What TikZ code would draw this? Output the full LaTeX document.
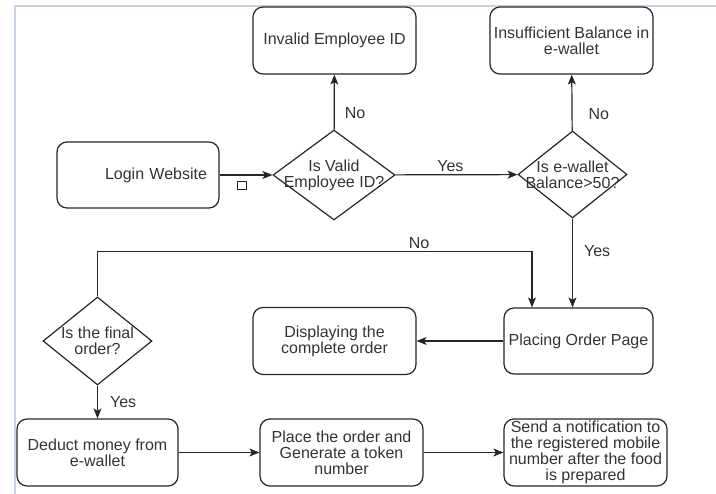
\documentclass[tikz,border=0pt]{standalone}
\usepackage{fontspec}
\setmainfont{Liberation Sans}
\usetikzlibrary{shapes.geometric,arrows.meta}
\definecolor{txtgrey}{HTML}{333333}
\definecolor{framegrey}{HTML}{C9D3E6}
\begin{document}
\begin{tikzpicture}[x=1pt,y=-1pt,line width=1.2pt,>={Stealth[length=10pt,width=8pt,inset=2.5pt]},
  every node/.style={text=txtgrey,font=\fontsize{16}{16}\selectfont},
  box/.style={draw=black!85,rounded corners=10pt,minimum width=163pt,minimum height=67pt,align=center,inner sep=2pt},
  decision/.style={draw=black!85,diamond,inner sep=0pt},
  qtext/.style={align=center,inner sep=0pt},
  tag/.style={inner sep=2pt},
  link/.style={->,draw=black!85}]
\useasboundingbox (0,0) rectangle (716,494);
\draw[framegrey,line width=2pt] (15,494) -- (15,6) -- (716,6);

\node[box,minimum width=162pt,minimum height=66pt,text width=138pt,inner xsep=12pt,align=right] (login) at (138,175) {Login Website};
\node[decision,minimum width=122pt,minimum height=90pt,label={[qtext]center:{Is Valid\\Employee ID?}}] (valid) at (334,175) {};
\node[box] (invalid) at (334.5,40.5) {Invalid Employee ID};
\node[decision,minimum width=109pt,minimum height=87pt,label={[qtext]center:{Is e-wallet\\Balance>50?}}] (balance) at (572.5,174.5) {};
\node[box] (lowbal) at (571.5,40.5) {Insufficient Balance in\\e-wallet};
\node[box,minimum width=149pt,minimum height=66pt] (place) at (578.5,341) {Placing Order Page};
\node[box] (display) at (334.5,341) {Displaying the\\complete order};
\node[decision,minimum width=109pt,minimum height=88pt,label={[qtext]center:{Is the final\\order?}}] (final) at (97.5,341) {};
\node[box,minimum width=161pt] (deduct) at (97.5,452.5) {Deduct money from\\e-wallet};
\node[box] (token) at (341.5,452.5) {Place the order and\\Generate a token\\number};
\node[box] (notify) at (585.5,452.5) {Send a notification to\\the registered mobile\\number after the food\\is prepared};
\node[draw=black!85,line width=0.9pt,minimum width=9pt,minimum height=8pt,inner sep=0pt] (mark) at (242,185.5) {};

\draw[link] (login) -- (valid);
\draw[link] (valid) -- node[tag,pos=0.3,right,xshift=8pt]{No} (invalid);
\draw[link] (valid) -- node[tag,pos=0.45,above]{Yes} (balance);
\draw[link] (balance) -- node[tag,pos=0.3,right,xshift=14pt]{No} (lowbal);
\draw[link] (balance.south) -- node[tag,pos=0.37,right,xshift=9pt]{Yes} (balance.south |- place.north);
\draw[link] (final.north) -- ++(0,-45) -| node[tag,pos=0.37,above]{No} ([xshift=-46.5pt]place.north);
\draw[link] (place) -- (display);
\draw[link] (final) -- node[tag,pos=0.5,right,xshift=10pt]{Yes} (deduct);
\draw[link] (deduct) -- (token);
\draw[link] (token) -- (notify);
\end{tikzpicture}
\end{document}
